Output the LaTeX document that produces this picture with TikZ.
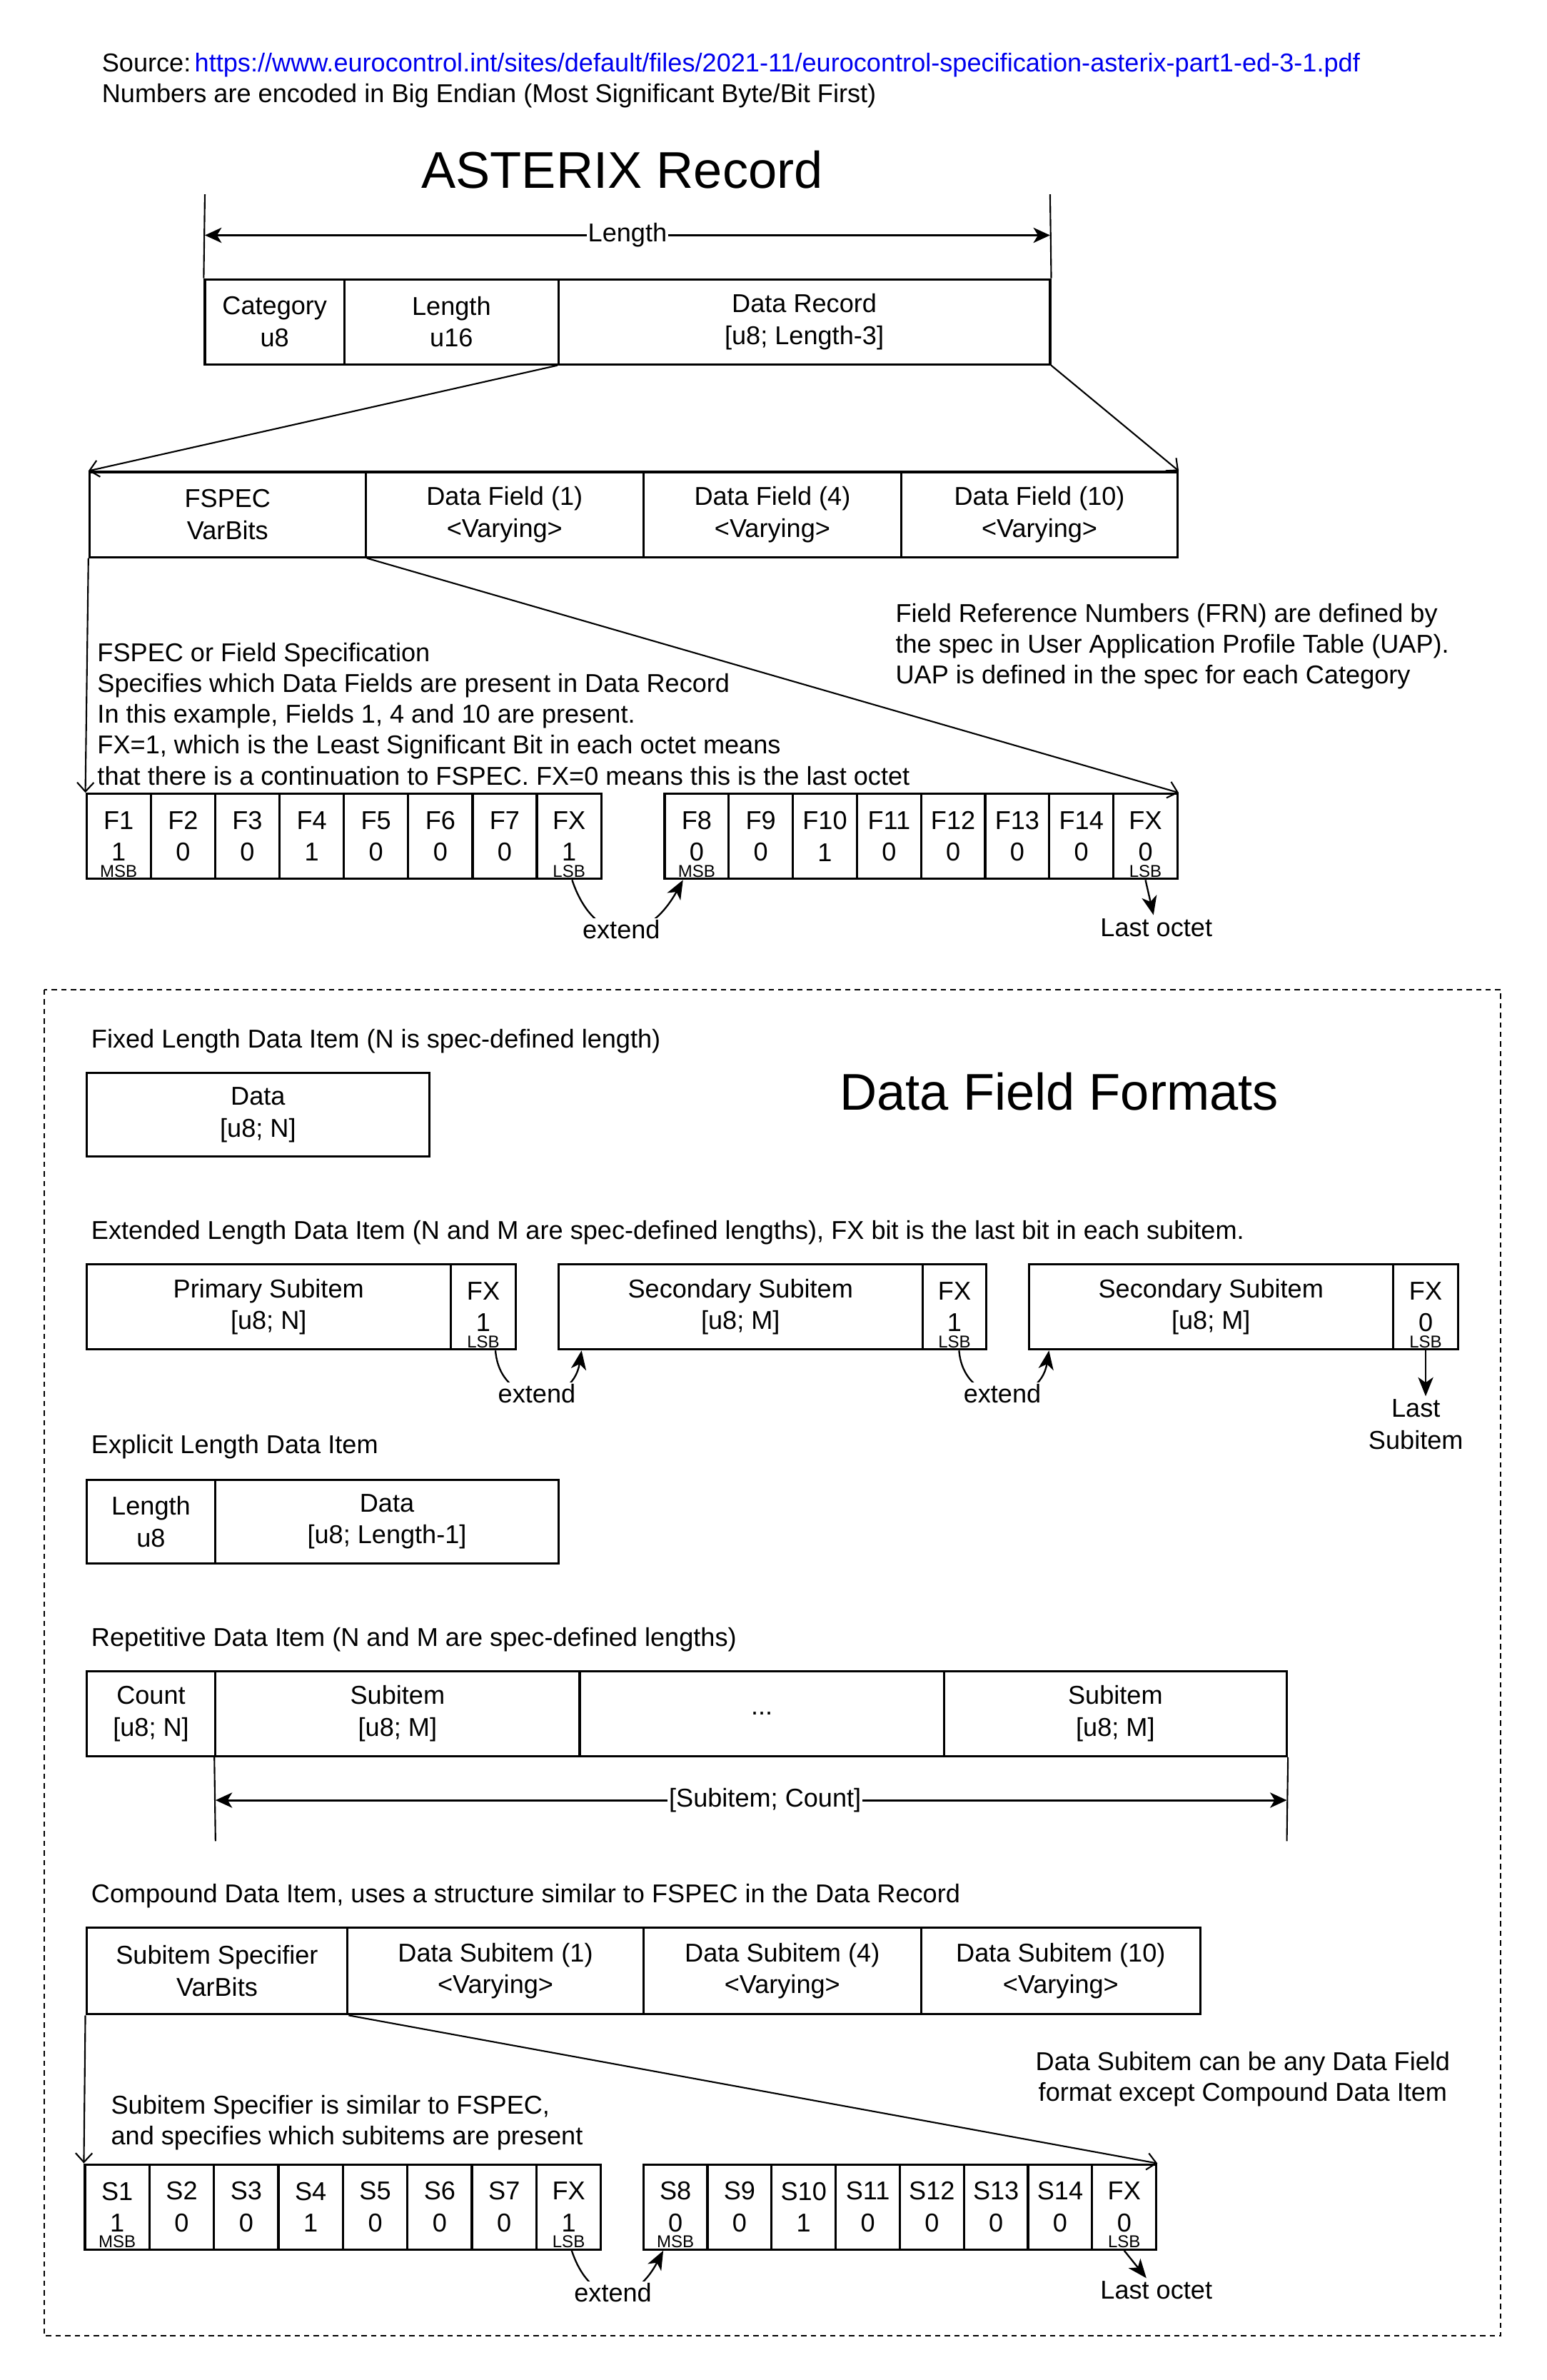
\documentclass[tikz,border=0pt]{standalone}
\usepackage{fontspec}
\setmainfont{Liberation Sans}
\usetikzlibrary{arrows.meta}
\definecolor{linkblue}{RGB}{0,0,238}
\newcommand\cellfont{\fontsize{17pt}{21pt}\selectfont}
\newcommand\notefont{\fontsize{17pt}{20.3pt}\selectfont}
\newcommand\titlefont{\fontsize{34pt}{40pt}\selectfont}
\newcommand\bitfont{\fontsize{11.3pt}{13pt}\selectfont}

\tikzset{
	cell/.style={draw, line width=1.5pt, minimum height=56pt, inner sep=0pt, align=center, font=\cellfont},
	bitcell/.style={cell, minimum width=42.4pt},
	note/.style={font=\notefont, inner sep=0pt, align=left},
	sidebit/.style={font=\bitfont, inner sep=1.5pt, anchor=south},
	lbl/.style={font=\cellfont, fill=white, inner sep=1pt},
	guide/.style={line width=1pt},
	openarr/.style={line width=1pt, -{Straight Barb[length=6pt,width=11pt]}},
	extarr/.style={line width=1.1pt, -{Stealth[length=12.5pt,width=10pt,inset=3.5pt]}},
	dimarr/.style={line width=1.4pt, {Stealth[length=11pt,width=10pt,inset=3pt]}-{Stealth[length=11pt,width=10pt,inset=3pt]}},
	frame/.style={line width=1pt, dash pattern=on 3.5pt off 2.8pt}
}

\begin{document}
\begin{tikzpicture}[x=1pt,y=-1pt]
	\useasboundingbox (0,0) rectangle (1019,1568);

	\node[note, anchor=west] (src) at (67,43) {Source:\hspace{2.5pt}\textcolor{linkblue}{https://www.eurocontrol.int/sites/default/files/2021-11/eurocontrol-specification-asterix-part1-ed-3-1.pdf}};
	\node[note, anchor=west] (endian) at (67,63) {Numbers are encoded in Big Endian (Most Significant Byte/Bit First)};
	\node[font=\titlefont, inner sep=0pt] (rectitle) at (410,112) {ASTERIX Record};

	% record
	\node[cell, minimum width=92pt] (cat) at (181,212) {Category\\u8};
	\node[cell, minimum width=141pt] (len) at (297.5,212) {Length\\u16};
	\node[cell, minimum width=324pt] (rec) at (530,212) {Data Record\\{}[u8; Length-3]};

	\coordinate (lenL) at (135,128);
	\coordinate (lenR) at (692,128);
	\coordinate (lenA) at (135,155);
	\coordinate (lenB) at (692,155);
	\draw[guide] (lenL) -- (cat.north west);
	\draw[guide] (lenR) -- (rec.north east);
	\draw[dimarr] (lenA) -- (lenB) node[midway, lbl] {Length};

	\node[cell, minimum width=182pt] (fspec) at (150,339) {FSPEC\\VarBits};
	\node[cell, minimum width=183pt] (df1) at (332.5,339) {Data Field (1)\\<Varying>};
	\node[cell, minimum width=170pt] (df4) at (509,339) {Data Field (4)\\<Varying>};
	\node[cell, minimum width=182pt] (df10) at (685,339) {Data Field (10)\\<Varying>};

	\draw[openarr] (rec.south west) -- (fspec.north west);
	\draw[openarr] (rec.south east) -- (df10.north east);

	\node[note, anchor=north west] (fspecnote) at (64,423.3) {FSPEC or Field Specification\\Specifies which Data Fields are present in Data Record\\In this example, Fields 1, 4 and 10 are present.\\FX=1, which is the Least Significant Bit in each octet means\\that there is a continuation to FSPEC. FX=0 means this is the last octet};
	\node[note, anchor=north west] (frnnote) at (590,397.3) {Field Reference Numbers (FRN) are defined by\\the spec in User Application Profile Table (UAP).\\UAP is defined in the spec for each Category};

	% fspec octets
	\foreach \lab/\val [count=\i from 0] in {F1/1,F2/0,F3/0,F4/1,F5/0,F6/0,F7/0,FX/1}
		\node[bitcell] (fa\i) at ({78.2+42.4*\i},551) {\lab\\\val};
	\foreach \lab/\val [count=\i from 0] in {F8/0,F9/0,F10/1,F11/0,F12/0,F13/0,F14/0,FX/0}
		\node[bitcell, minimum width=42.25pt] (fb\i) at ({459.1+42.25*\i},551) {\lab\\\val};
	\node[sidebit] (msba) at (fa0.south) {MSB};
	\node[sidebit] (lsba) at (fa7.south) {LSB};
	\node[sidebit] (msbb) at (fb0.south) {MSB};
	\node[sidebit] (lsbb) at (fb7.south) {LSB};

	\draw[openarr] (fspec.south west) -- (fa0.north west);
	\draw[openarr] (fspec.south east) -- (fb7.north east);

	\draw[extarr] ([xshift=2pt]fa7.south) .. controls +(14,42) and +(-25,45) .. ([xshift=-9pt]fb0.south) node[pos=0.5, lbl] {extend};
	\node[font=\cellfont, inner sep=2pt] (lasta) at (762,611) {Last octet};
	\draw[extarr] (fb7.south) -- (lasta);

	% formats
	\draw[frame] (29,652) rectangle (989,1539);

	\node[note, anchor=west] (fixedcap) at (60,686) {Fixed Length Data Item (N is spec-defined length)};
	\node[cell, minimum width=226pt, minimum height=55pt] (fixdata) at (170,734.5) {Data\\{}[u8; N]};
	\node[font=\titlefont, inner sep=0pt] (fmttitle) at (698,719) {Data Field Formats};

	\node[note, anchor=west] (extcap) at (60,812) {Extended Length Data Item (N and M are spec-defined lengths), FX bit is the last bit in each subitem.};
	\node[cell, minimum width=240pt] (prim) at (177,861) {Primary Subitem\\{}[u8; N]};
	\node[cell, minimum width=43pt] (fxa) at (318.5,861) {FX\\1};
	\node[cell, minimum width=240pt] (seca) at (488,861) {Secondary Subitem\\{}[u8; M]};
	\node[cell, minimum width=42pt] (fxb) at (629,861) {FX\\1};
	\node[cell, minimum width=240pt] (secb) at (798,861) {Secondary Subitem\\{}[u8; M]};
	\node[cell, minimum width=43pt] (fxc) at (939.5,861) {FX\\0};
	\node[sidebit] (lsbc) at (fxa.south) {LSB};
	\node[sidebit] (lsbd) at (fxb.south) {LSB};
	\node[sidebit] (lsbe) at (fxc.south) {LSB};

	\draw[extarr] ([xshift=8pt]fxa.south) .. controls +(3,38) and +(-6,38) .. ([xshift=16pt]seca.south west) node[pos=0.5, lbl] {extend};
	\draw[extarr] ([xshift=3pt]fxb.south) .. controls +(3,38) and +(-6,38) .. ([xshift=14pt]secb.south west) node[pos=0.5, lbl] {extend};
	\node[font=\cellfont, align=center, inner sep=2pt] (lastsub) at (933,938.5) {Last\\Subitem};
	\draw[extarr] (fxc.south) -- (lastsub.north -| fxc.south);

	\node[note, anchor=west] (explcap) at (60,953) {Explicit Length Data Item};
	\node[cell, minimum width=85pt, minimum height=55pt] (elen) at (99.5,1002.5) {Length\\u8};
	\node[cell, minimum width=226pt, minimum height=55pt] (edata) at (255,1002.5) {Data\\{}[u8; Length-1]};

	\node[note, anchor=west] (repcap) at (60,1080) {Repetitive Data Item (N and M are spec-defined lengths)};
	\node[cell, minimum width=85pt] (rcount) at (99.5,1129) {Count\\{}[u8; N]};
	\node[cell, minimum width=240pt] (rsuba) at (262,1129) {Subitem\\{}[u8; M]};
	\node[cell, minimum width=240pt] (rdots) at (502,1129) {...};
	\node[cell, minimum width=226pt] (rsubb) at (735,1129) {Subitem\\{}[u8; M]};

	\coordinate (repL) at (142,1213);
	\coordinate (repR) at (848,1213);
	\coordinate (repA) at (142,1186);
	\coordinate (repB) at (848,1186);
	\draw[guide] (rsuba.south west) -- (repL);
	\draw[guide] (rsubb.south east) -- (repR);
	\draw[dimarr] (repA) -- (repB) node[pos=0.513, lbl] {[Subitem; Count]};

	\node[note, anchor=west] (compcap) at (60,1249) {Compound Data Item, uses a structure similar to FSPEC in the Data Record};
	\node[cell, minimum width=172pt, minimum height=57pt] (sspec) at (143,1298.5) {Subitem Specifier\\VarBits};
	\node[cell, minimum width=195pt, minimum height=57pt] (ds1) at (326.5,1298.5) {Data Subitem (1)\\<Varying>};
	\node[cell, minimum width=183pt, minimum height=57pt] (ds4) at (515.5,1298.5) {Data Subitem (4)\\<Varying>};
	\node[cell, minimum width=184pt, minimum height=57pt] (ds10) at (699,1298.5) {Data Subitem (10)\\<Varying>};

	\node[note, align=center, anchor=north] (subnote) at (819,1351.3) {Data Subitem can be any Data Field\\format except Compound Data Item};
	\node[note, anchor=north west] (specnote) at (73,1380.3) {Subitem Specifier is similar to FSPEC,\\and specifies which subitems are present};

	\foreach \lab/\val [count=\i from 0] in {S1/1,S2/0,S3/0,S4/1,S5/0,S6/0,S7/0,FX/1}
		\node[bitcell, minimum width=42.5pt] (sa\i) at ({77.25+42.5*\i},1454) {\lab\\\val};
	\foreach \lab/\val [count=\i from 0] in {S8/0,S9/0,S10/1,S11/0,S12/0,S13/0,S14/0,FX/0}
		\node[bitcell, minimum width=42.25pt] (sb\i) at ({445.1+42.25*\i},1454) {\lab\\\val};
	\node[sidebit] (msbf) at (sa0.south) {MSB};
	\node[sidebit] (lsbf) at (sa7.south) {LSB};
	\node[sidebit] (msbg) at (sb0.south) {MSB};
	\node[sidebit] (lsbg) at (sb7.south) {LSB};

	\draw[openarr] (sspec.south west) -- (sa0.north west);
	\draw[openarr] (sspec.south east) -- (sb7.north east);

	\draw[extarr] ([xshift=2pt]sa7.south) .. controls +(12,36) and +(-20,38) .. ([xshift=-8pt]sb0.south) node[pos=0.5, lbl] {extend};
	\node[font=\cellfont, inner sep=2pt] (lastb) at (762,1509) {Last octet};
	\draw[extarr] (sb7.south) -- (lastb);
\end{tikzpicture}
\end{document}
